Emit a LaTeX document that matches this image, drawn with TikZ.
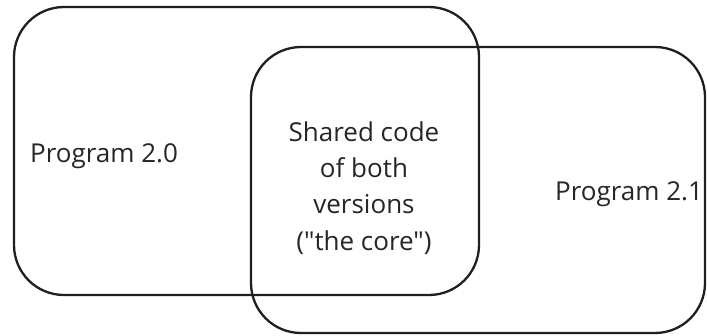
\documentclass[tikz,border=0pt]{standalone}
\usepackage{fontspec}
\setmainfont{Open Sans}[Ligatures=TeXOff]
\begin{document}
\begin{tikzpicture}[x=1pt,y=-1pt,
  setbox/.style={draw=black!88, line width=2.3pt, rounded corners=50pt,
    inner sep=0pt, outer sep=0pt},
  label/.style={text=black!85, inner sep=0pt, font=\fontsize{26}{36.3}\selectfont}]
  \useasboundingbox (0,0) rectangle (707,335);
  % the two program versions as overlapping sets
  \node[setbox, minimum width=465pt, minimum height=288pt] (v20) at (246.5,151) {};
  \node[setbox, minimum width=454pt, minimum height=286pt] (v21) at (478,190) {};
  % labels (the multi-line node is anchored on its last baseline)
  \node[label, anchor=base west] (l20) at (30,162) {Program 2.0};
  \node[label, anchor=base west] (l21) at (555,200) {Program 2.1};
  \node[label, align=center, anchor=base] (core) at (364,250)
    {Shared code\\of both\\versions\\("the core")};
\end{tikzpicture}
\end{document}
